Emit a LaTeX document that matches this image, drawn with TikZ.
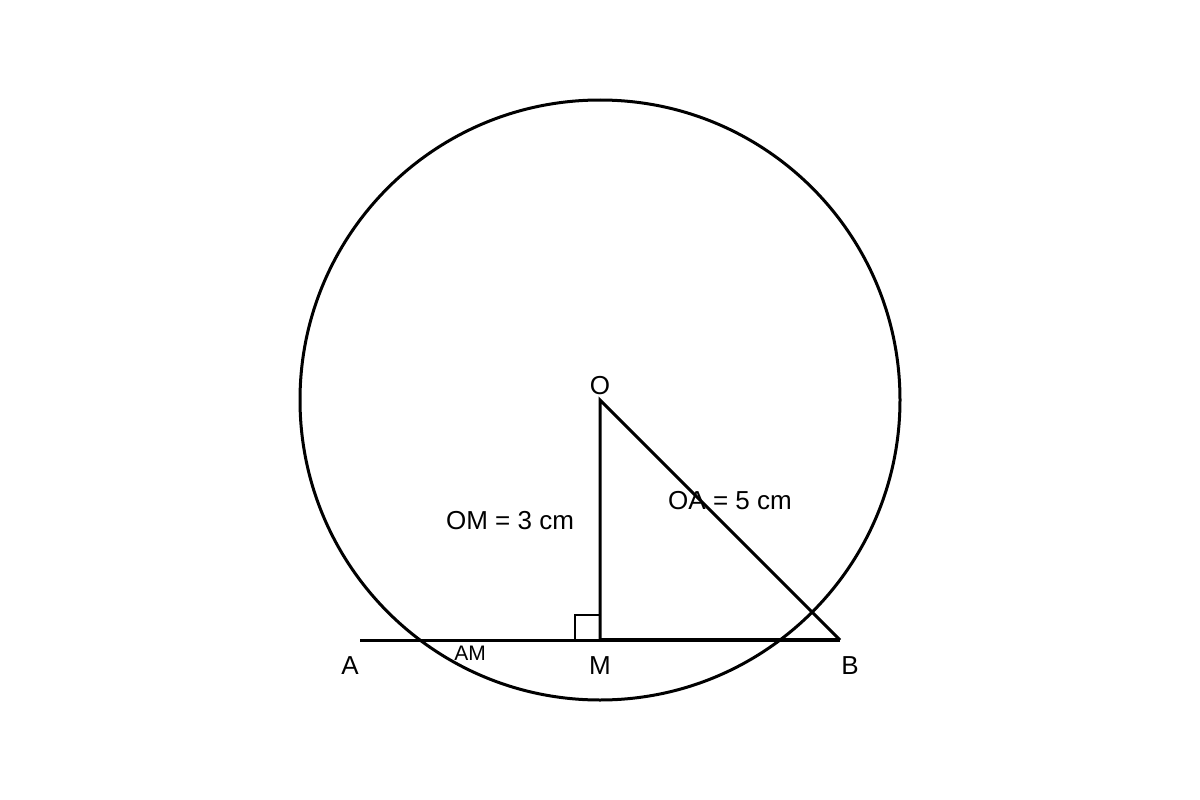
\documentclass[tikz,border=0pt]{standalone}
\usepackage{fontspec}
\setmainfont{Liberation Sans}
\begin{document}
\begin{tikzpicture}[x=1pt,y=-1pt,
  geo/.style={line width=3pt,line cap=butt,line join=miter},
  thin/.style={line width=1.6pt},
  lbl/.style={inner sep=0pt,font=\fontsize{26}{30}\selectfont},
  small/.style={inner sep=0pt,font=\fontsize{21}{25}\selectfont}]
\useasboundingbox (0,0) rectangle (1200,800);
\fill[white] (0,0) rectangle (1200,800);
\coordinate (O) at (600,400);
\coordinate (M) at (600,640);
\coordinate (B) at (840,640);
\coordinate (Aend) at (360,640);
\draw[geo] (O) circle[radius=300];
\draw[geo] (Aend) -- (M);
\draw[geo,line width=3.4pt] (M) -- (B);
\draw[geo] (M) -- (O) -- (B);
\draw[thin] (600,615) -- (575,615) -- (575,640);
\node[lbl] (lO) at (600,386) {O};
\node[lbl] (lA) at (350,666) {A};
\node[lbl] (lM) at (600,666) {M};
\node[lbl] (lB) at (850,666) {B};
\node[small] (lAM) at (470,653) {AM};
\node[lbl] (lOM) at (510,521) {OM = 3 cm};
\node[lbl] (lOA) at (730,501) {OA = 5 cm};
\end{tikzpicture}
\end{document}
